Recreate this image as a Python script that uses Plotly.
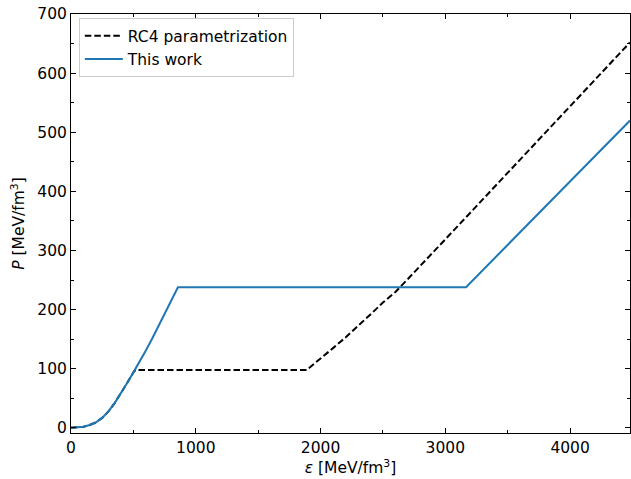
import plotly.graph_objects as go

# This work (blue)
work_eps = [0, 50, 100, 150, 200, 250, 300, 350, 400, 450, 500, 550, 600, 650, 700, 750, 800, 857, 3166, 4480]
work_p = [0.5, 0.8, 2, 5, 9.5, 17, 28, 42, 58, 76, 94, 112, 131, 151, 172, 193, 214, 238, 238, 520]

# RC4 parametrization (black dashed)
rc4_eps = [0, 50, 100, 150, 200, 250, 300, 350, 400, 450, 500, 517, 1888, 2000, 2100, 2200, 2300, 2400,
           2500, 2600, 2700, 2800, 3000, 3200, 3400, 3600, 3800, 4000, 4200, 4480]
rc4_p = [0.5, 0.8, 2, 5, 9.5, 17, 28, 42, 58, 76, 94, 98, 98, 117, 135, 153, 172, 192,
         212, 230, 252, 274, 319, 364, 409, 454, 499, 544, 589, 652]

x_ticks = [0, 1000, 2000, 3000, 4000]
y_ticks = [0, 100, 200, 300, 400, 500, 600, 700]

FONT = "DejaVu Sans"
FS = 15.5

fig = go.Figure()
fig.add_trace(go.Scatter(x=rc4_eps, y=rc4_p, mode="lines", name="RC4 parametrization",
                         line=dict(color="black", width=2, dash="6.5px,3px")))
fig.add_trace(go.Scatter(x=work_eps, y=work_p, mode="lines", name="This work",
                         line=dict(color="#1f77b4", width=2)))

axis_common = dict(showline=True, linecolor="black", linewidth=1, mirror="ticks",
                   ticks="inside", ticklen=5, tickwidth=1, tickcolor="black",
                   showgrid=False, zeroline=False,
                   tickfont=dict(family=FONT, size=FS, color="black"))

fig.update_xaxes(range=[0, 4480], tickvals=x_ticks,
                 minor=dict(ticks="inside", dtick=500, tick0=0, ticklen=3, tickcolor="black", tickwidth=1),
                 title=dict(text="<i>ε</i> [MeV/fm<sup>3</sup>]", font=dict(family=FONT, size=FS, color="black"),
                            standoff=6),
                 **axis_common)
fig.update_yaxes(range=[-8.5, 700], tickvals=y_ticks,
                 minor=dict(ticks="inside", dtick=50, tick0=0, ticklen=3, tickcolor="black", tickwidth=1),
                 title=dict(text="<i>P</i> [MeV/fm<sup>3</sup>]", font=dict(family=FONT, size=FS, color="black"),
                            standoff=8),
                 **axis_common)

fig.update_layout(
    width=631, height=479,
    margin=dict(l=71, r=1, t=14, b=46, autoexpand=False),
    plot_bgcolor="white", paper_bgcolor="white",
    font=dict(family=FONT, size=FS, color="black"),
    legend=dict(x=0.014, y=0.99, xanchor="left", yanchor="top",
                bgcolor="rgba(255,255,255,0.8)", bordercolor="#cccccc", borderwidth=1,
                font=dict(family=FONT, size=FS, color="black"), itemwidth=38,
                tracegroupgap=0),
)

fig.write_html("out.html", config={"displayModeBar": False},
               post_script="document.body.style.margin='0';document.body.style.overflow='hidden';")
